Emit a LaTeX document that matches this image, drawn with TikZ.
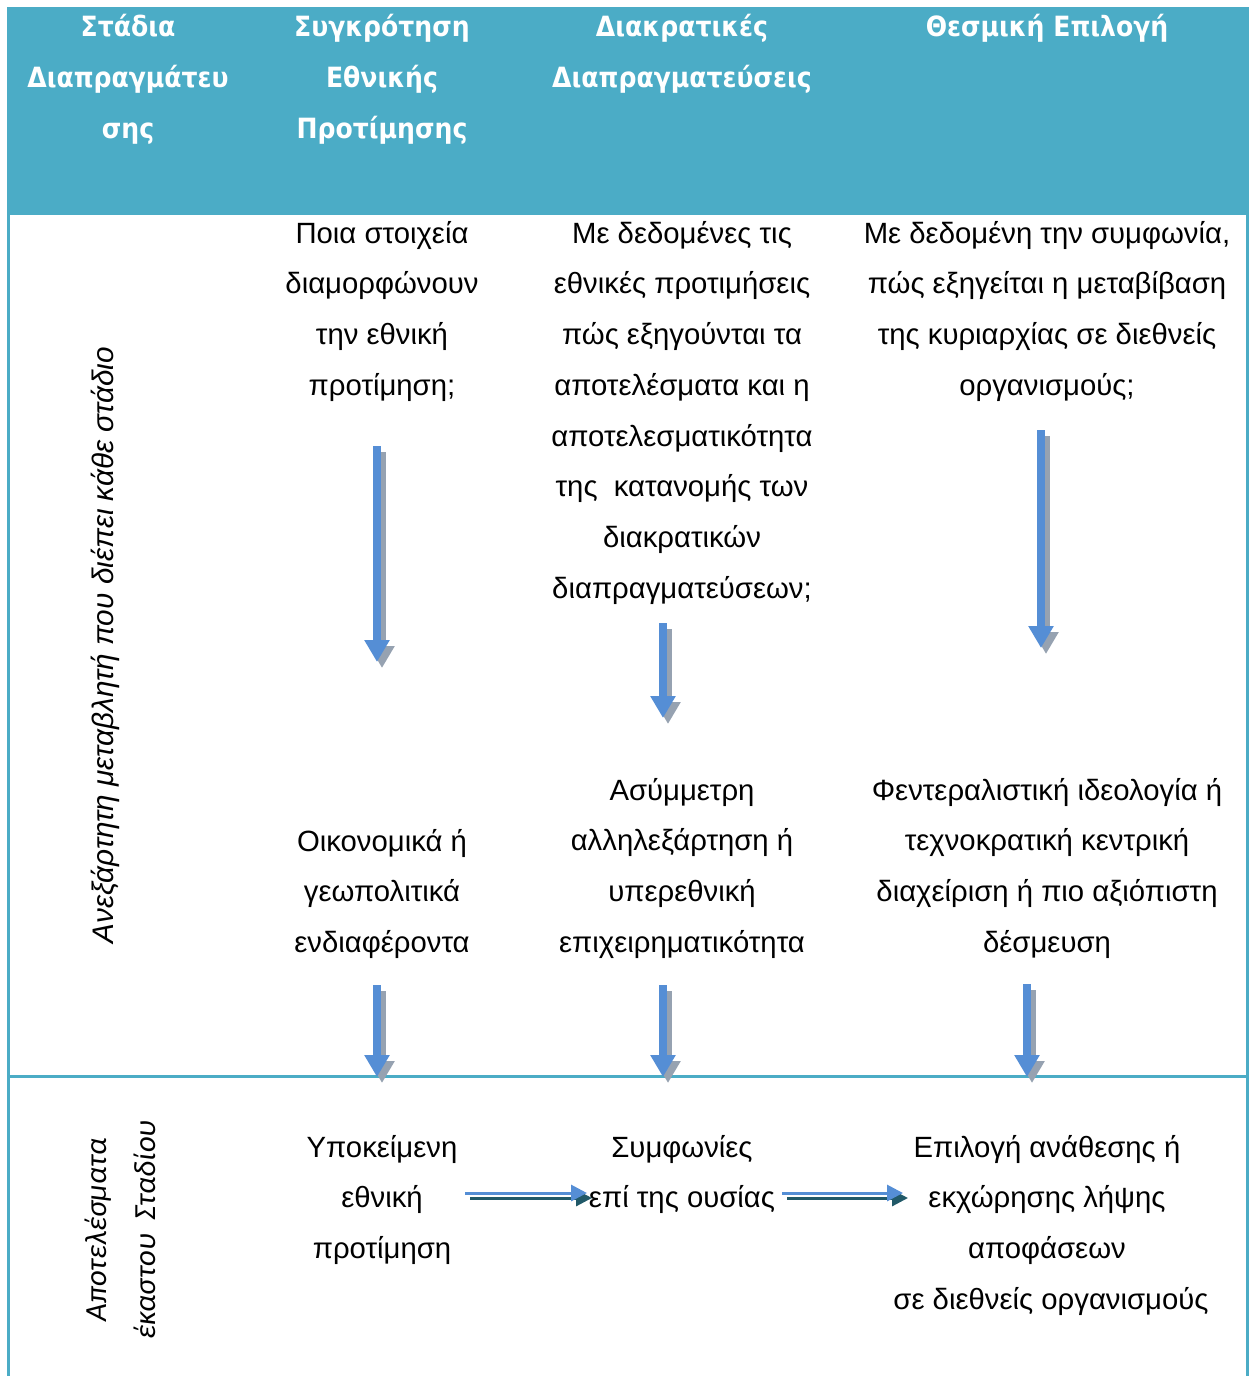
\documentclass[tikz,border=0pt]{standalone}
\usepackage{fontspec}
\setmainfont{Liberation Sans}
\newfontfamily\headfont{DejaVu Sans}[FakeStretch=0.9]
\newfontfamily\notefont{Carlito}
\usetikzlibrary{arrows.meta}

\definecolor{tealband}{HTML}{4BACC6}
\definecolor{arrowblue}{HTML}{558ED5}
\definecolor{arrowshade}{HTML}{96A2B1}
\definecolor{darkteal}{HTML}{215968}

% strut that fixes the top of the first line of every text block
\newcommand\linetop{\rule{0pt}{24pt}}

\tikzset{
  headtext/.style={align=center, inner sep=0pt, anchor=north, text=white,
    font=\headfont\bfseries\fontsize{27.9}{51}\selectfont},
  celltext/.style={align=center, inner sep=0pt, anchor=north,
    font=\fontsize{29.3}{50.7}\selectfont},
  sidetext/.style={inner sep=0pt, anchor=base, rotate=90,
    font=\itshape\fontsize{29.7}{34}\selectfont},
  resulttext/.style={inner sep=0pt, anchor=base, rotate=90,
    font=\notefont\itshape\fontsize{30.7}{36}\selectfont},
  rule/.style={draw=tealband, line width=3pt},
  bigarrow/.style={draw=arrowblue, line width=8.5pt,
    -{Triangle[width=24pt,length=22pt]}},
  bigshade/.style={draw=arrowshade, line width=8.5pt,
    -{Triangle[width=24pt,length=22pt]}},
  thinarrow/.style={draw=arrowblue, line width=3pt,
    -{Triangle[width=16pt,length=16pt]}},
  thinshade/.style={draw=darkteal, line width=3pt,
    -{Triangle[width=16pt,length=16pt]}},
}

\begin{document}
\begin{tikzpicture}[x=1pt, y=-1pt]
\useasboundingbox (0,0) rectangle (1254,1376);

% header band and table rules
\fill[tealband] (7,7) rectangle (1249,215);
\draw[rule] (8.5,215) -- (8.5,1376);
\draw[rule] (1247.5,215) -- (1247.5,1376);
\draw[rule] (7,1076) -- (1249,1076);

% header
\node[headtext] (h1) at (128,12) {\linetop Στάδια\\Διαπραγμάτευ\\σης};
\node[headtext] (h2) at (382,12) {\linetop Συγκρότηση\\Εθνικής\\Προτίμησης};
\node[headtext] (h3) at (682,12) {\linetop Διακρατικές\\Διαπραγματεύσεις};
\node[headtext] (h4) at (1047,12) {\linetop Θεσμική Επιλογή};

% row labels
\node[sidetext] (side) at (113,645) {Ανεξάρτητη μεταβλητή που διέπει κάθε στάδιο};
\node[resulttext] (resA) at (106,1230) {Αποτελέσματα};
\node[resulttext] (resB) at (155,1230) {έκαστου\ \ Σταδίου};

% questions
\node[celltext] (q2) at (382,219) {\linetop Ποια στοιχεία\\διαμορφώνουν\\την εθνική\\προτίμηση;};
\node[celltext] (q3) at (682,219) {\linetop Με δεδομένες τις\\εθνικές προτιμήσεις\\πώς εξηγούνται τα\\αποτελέσματα και η\\αποτελεσματικότητα\\της\ \ κατανομής των\\διακρατικών\\διαπραγματεύσεων;};
\node[celltext] (q4) at (1047,219) {\linetop Με δεδομένη την συμφωνία,\\πώς εξηγείται η μεταβίβαση\\της κυριαρχίας σε διεθνείς\\οργανισμούς;};

% independent variables
\node[celltext] (v2) at (382,827) {\linetop Οικονομικά ή\\γεωπολιτικά\\ενδιαφέροντα};
\node[celltext] (v3) at (682,776) {\linetop Ασύμμετρη\\αλληλεξάρτηση ή\\υπερεθνική\\επιχειρηματικότητα};
\node[celltext] (v4) at (1047,776) {\linetop Φεντεραλιστική ιδεολογία ή\\τεχνοκρατική κεντρική\\διαχείριση ή πιο αξιόπιστη\\δέσμευση};

% outcomes
\node[celltext] (o2) at (382,1133) {\linetop Υποκείμενη\\εθνική\\προτίμηση};
\node[celltext] (o3) at (682,1133) {\linetop Συμφωνίες\\επί της ουσίας};
\node[celltext] (o4) at (1047,1133) {\linetop Επιλογή ανάθεσης ή\\εκχώρησης λήψης\\αποφάσεων\\\hspace*{8pt}σε διεθνείς οργανισμούς};

% arrow end points
\coordinate (a2s) at (377,446);  \coordinate (a2e) at (377,662);
\coordinate (a3s) at (663,623);  \coordinate (a3e) at (663,718);
\coordinate (a4s) at (1041,430); \coordinate (a4e) at (1041,648);
\coordinate (b2s) at (377,985);  \coordinate (b2e) at (377,1077);
\coordinate (b3s) at (663,985);  \coordinate (b3e) at (663,1077);
\coordinate (b4s) at (1027,984); \coordinate (b4e) at (1027,1077);
\coordinate (c1s) at (465,1193); \coordinate (c1e) at (587,1193);
\coordinate (c2s) at (782,1193); \coordinate (c2e) at (903,1193);

% shadows
\foreach \p in {a2,a3,a4,b2,b3,b4}
  \draw[bigshade] ([shift={(5,6)}]\p s) -- ([shift={(5,6)}]\p e);
\foreach \p in {c1,c2}
  \draw[thinshade] ([shift={(5,5)}]\p s) -- ([shift={(5,5)}]\p e);

% arrows
\foreach \p in {a2,a3,a4,b2,b3,b4}
  \draw[bigarrow] (\p s) -- (\p e);
\foreach \p in {c1,c2}
  \draw[thinarrow] (\p s) -- (\p e);
\end{tikzpicture}
\end{document}
